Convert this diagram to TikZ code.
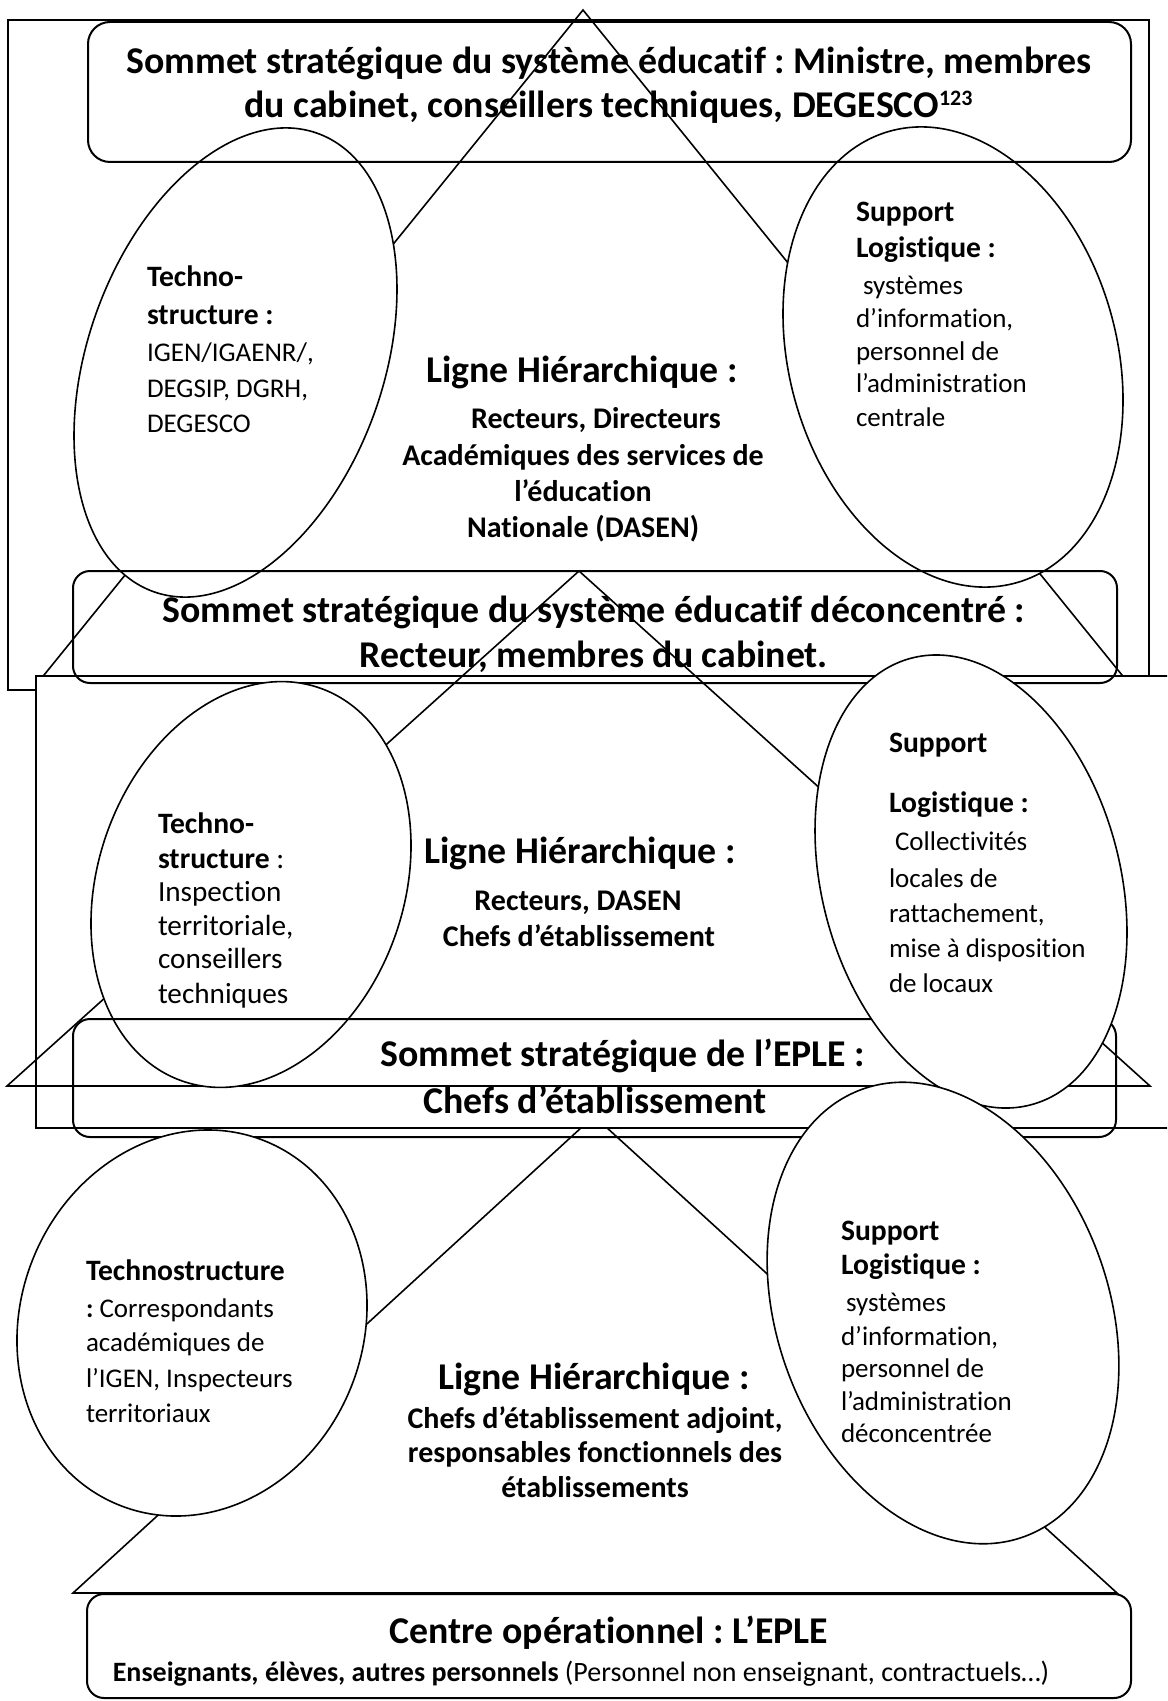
\documentclass[tikz,border=0pt]{standalone}
\usepackage{fontspec}
\setmainfont{Carlito}[Ligatures={NoCommon,NoRequired,NoContextual}]
\frenchspacing
\begin{document}
\begin{tikzpicture}[x=0.5pt,y=-0.5pt,
  frame/.style={line width=1pt, fill=white},
  tri/.style={line width=0.8pt, line join=miter},
  ell/.style={line width=0.8pt, fill=white},
  rbox/.style={line width=1pt, rounded corners=8.5pt},
  T/.style={inner sep=0pt, outer sep=0pt, anchor=base, font=\fontsize{18.9}{22}\selectfont\bfseries\frenchspacing},
  S/.style={inner sep=0pt, outer sep=0pt, anchor=base, font=\fontsize{15}{17}\selectfont\bfseries\frenchspacing},
  B/.style={inner sep=0pt, outer sep=0pt, anchor=base west, font=\fontsize{14.8}{17}\selectfont\bfseries\frenchspacing},
  R/.style={inner sep=0pt, outer sep=0pt, anchor=base west, font=\fontsize{13.5}{16}\selectfont\frenchspacing},
  RL/.style={inner sep=0pt, outer sep=0pt, anchor=base west, font=\fontsize{14.6}{17}\selectfont\frenchspacing},
  E/.style={inner sep=0pt, outer sep=0pt, anchor=base, font=\fontsize{14}{17}\selectfont\frenchspacing},
]
\path[use as bounding box] (0,0) rectangle (1167,1701);
\clip (0,0) rectangle (1167,1701);

% ---- level 1
\draw[frame] (8,20) rectangle (1149,690);
\draw[tri] (40,680) -- (583,10) -- (1126,680) -- cycle;
\draw[ell, rotate around={-19.65:(235.5,362.5)}] (235.5,362.5) ellipse [x radius=147.8, y radius=243.4];
\draw[ell, rotate around={15.7:(953,357)}] (953,357) ellipse [x radius=163.8, y radius=234.5];
\draw[rbox, rounded corners=11pt] (88,22) rectangle (1131,162);

% ---- level 3 triangle (apex hidden by frame 2)
\draw[tri] (73,1593) -- (594,1116) -- (1117,1593) -- cycle;

% ---- level 2
\draw[frame] (36,676) rectangle (1190,1128);
\draw[rbox] (73,571) rectangle (1117,683);
\draw[tri] (7,1086) -- (579,571) -- (1150,1086) -- cycle;
\draw[ell, rotate around={-19.35:(251,884.5)}] (251,884.5) ellipse [x radius=153, y radius=208.2];
\draw[rbox] (73,1019) rectangle (1116,1137);
\draw[ell, rotate around={15.2:(971,881.5)}] (971,881.5) ellipse [x radius=148.9, y radius=231.2];

% ---- level 3
\draw[ell, rotate around={-21.5:(192,1323)}] (192,1323) ellipse [x radius=171.5, y radius=196.1];
\draw[ell, rotate around={19.9:(943,1313)}] (943,1313) ellipse [x radius=166, y radius=237.9];
\draw[rbox] (87,1594) rectangle (1131,1698);

% ---- texts level 1
\node[T] (t1a) at (609,74) {Sommet stratégique du système éducatif : Ministre, membres};
\node[T] (t1b) at (609,118) {du cabinet, conseillers techniques, DEGESCO\textsuperscript{\fontsize{11}{11}\selectfont 123}};
\node[B] (l1a) at (147,287) {Techno-};
\node[B] (l1b) at (147,325) {structure :};
\node[R] (l1c) at (147,362) {IGEN/IGAENR/,};
\node[R] (l1d) at (147,397) {DEGSIP, DGRH,};
\node[R] (l1e) at (147,432) {DEGESCO};
\node[T] (c1a) at (582,382) {Ligne Hiérarchique :};
\node[S] (c1b) at (596,428) {Recteurs, Directeurs};
\node[S] (c1c) at (583,465) {Académiques des services de};
\node[S] (c1d) at (583,501) {l’éducation};
\node[S] (c1e) at (583,537) {Nationale (DASEN)};
\node[B] (r1a) at (856,222) {Support};
\node[B] (r1b) at (856,258) {Logistique :};
\node[R] (r1c) at (863,295) {systèmes};
\node[R] (r1d) at (856,328) {d’information,};
\node[R] (r1e) at (856,360) {personnel de};
\node[R] (r1f) at (856,393) {l’administration};
\node[R] (r1g) at (856,426) {centrale};

% ---- texts level 2
\node[T] (t2a) at (594,622) {Sommet stratégique du système éducatif déconcentré :};
\node[T] (t2b) at (594,667) {Recteur, membres du cabinet.};
\node[B] (l2a) at (158,833) {Techno-};
\node[B] (l2b) at (158,868) {structure \mdseries :};
\node[RL] (l2c) at (158,901) {Inspection};
\node[RL] (l2d) at (158,935) {territoriale,};
\node[RL] (l2e) at (158,968) {conseillers};
\node[RL] (l2f) at (158,1003) {techniques};
\node[T] (c2a) at (580,863) {Ligne Hiérarchique :};
\node[S] (c2b) at (578,910) {Recteurs, DASEN};
\node[S] (c2c) at (579,946) {Chefs d’établissement};
\node[B] (r2a) at (889,752) {Support};
\node[B] (r2b) at (889,812) {Logistique :};
\node[R] (r2c) at (895,850) {Collectivités};
\node[R] (r2d) at (889,887) {locales de};
\node[R] (r2e) at (889,922) {rattachement,};
\node[R] (r2f) at (889,957) {mise à disposition};
\node[R] (r2g) at (889,992) {de locaux};
\node[T] (t3a) at (623,1066) {Sommet stratégique de l’EPLE :};
\node[T] (t3b) at (595,1113) {Chefs d’établissement};

% ---- texts level 3
\node[B] (l3a) at (86,1280) {Technostructure};
\node[R] (l3b) at (86,1317) {\textbf{:} Correspondants};
\node[R] (l3c) at (86,1351) {académiques de};
\node[R] (l3d) at (86,1387) {l’IGEN, Inspecteurs};
\node[R] (l3e) at (86,1422) {territoriaux};
\node[T] (c3a) at (594,1389) {Ligne Hiérarchique :};
\node[S] (c3b) at (595,1428) {Chefs d’établissement adjoint,};
\node[S] (c3c) at (595,1462) {responsables fonctionnels des};
\node[S] (c3d) at (595,1497) {établissements};
\node[B] (r3a) at (841,1240) {Support};
\node[B] (r3b) at (841,1274) {Logistique :};
\node[R] (r3c) at (846,1311) {systèmes};
\node[R] (r3d) at (841,1345) {d’information,};
\node[R] (r3e) at (841,1377) {personnel de};
\node[R] (r3f) at (841,1410) {l’administration};
\node[R] (r3g) at (841,1442) {déconcentrée};
\node[T] (t4a) at (609,1643) {Centre opérationnel : L’EPLE};
\node[E] (t4b) at (581,1681) {\textbf{Enseignants, élèves, autres personnels} (Personnel non enseignant, contractuels…)};
\end{tikzpicture}
\end{document}
